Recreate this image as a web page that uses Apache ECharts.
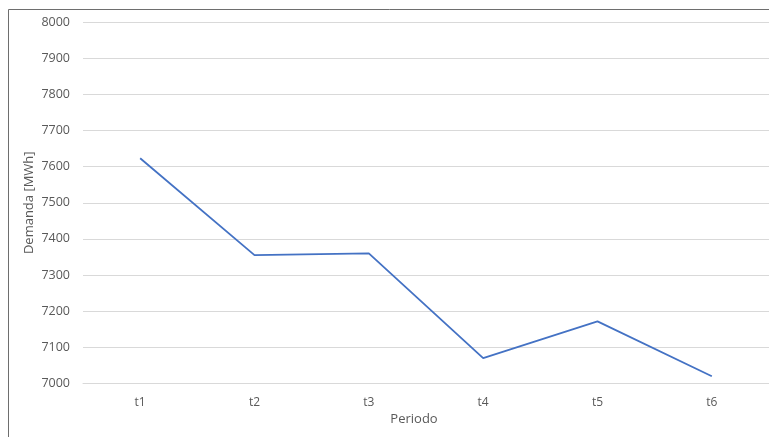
<!DOCTYPE html>
<html>
<head>
<meta charset="utf-8">
<script src="https://cdn.jsdelivr.net/npm/echarts@6/dist/echarts.min.js"></script>
<style>
  html, body { margin: 0; padding: 0; background: #fff; }
  #chart { width: 769px; height: 437px; }
</style>
</head>
<body>
<div id="chart"></div>
<script>
// Energy demand per period
const periods = ['t1', 't2', 't3', 't4', 't5', 't6'];
const demand = [7623, 7355, 7360, 7070, 7172, 7020];
const yMin = 7000;
const yMax = 8000;
const yStep = 100;

const font = '"Open Sans", "Liberation Sans", sans-serif';
const textColor = '#595959';

const chart = echarts.init(document.getElementById('chart'), null, { renderer: 'canvas' });

chart.setOption({
  backgroundColor: '#ffffff',
  animation: false,
  graphic: [{
    type: 'rect',
    silent: true,
    shape: { x: 8.5, y: 9.5, width: 800, height: 500 },
    style: { fill: 'none', stroke: '#6e6e6e', lineWidth: 1 }
  }],
  grid: { left: 83, top: 22, width: 688, height: 361.5, containLabel: false },
  xAxis: {
    type: 'category',
    data: periods,
    boundaryGap: true,
    name: 'Periodo',
    nameLocation: 'middle',
    nameGap: 29,
    nameMoveOverlap: false,
    nameTextStyle: { color: textColor, fontFamily: font, fontSize: 13, padding: [0, 24, 0, 0] },
    axisLine: { show: true, lineStyle: { color: '#d9d9d9', width: 1 } },
    axisTick: { show: false },
    axisLabel: { color: textColor, fontFamily: font, fontSize: 12, margin: 13 },
    splitLine: { show: false }
  },
  yAxis: {
    type: 'value',
    min: yMin,
    max: yMax,
    interval: yStep,
    name: 'Demanda [MWh]',
    nameLocation: 'middle',
    nameGap: 47,
    nameMoveOverlap: false,
    nameTextStyle: { color: textColor, fontFamily: font, fontSize: 13 },
    axisLine: { show: false },
    axisTick: { show: false },
    axisLabel: {
      color: textColor, fontFamily: font, fontSize: 12.5, margin: 13,
      formatter: (v) => String(v)
    },
    splitLine: { show: true, lineStyle: { color: '#d9d9d9', width: 1 } }
  },
  series: [{
    type: 'line',
    data: demand,
    symbol: 'none',
    lineStyle: { color: '#4472c4', width: 1.8 },
    itemStyle: { color: '#4472c4' }
  }]
});
</script>
</body>
</html>
